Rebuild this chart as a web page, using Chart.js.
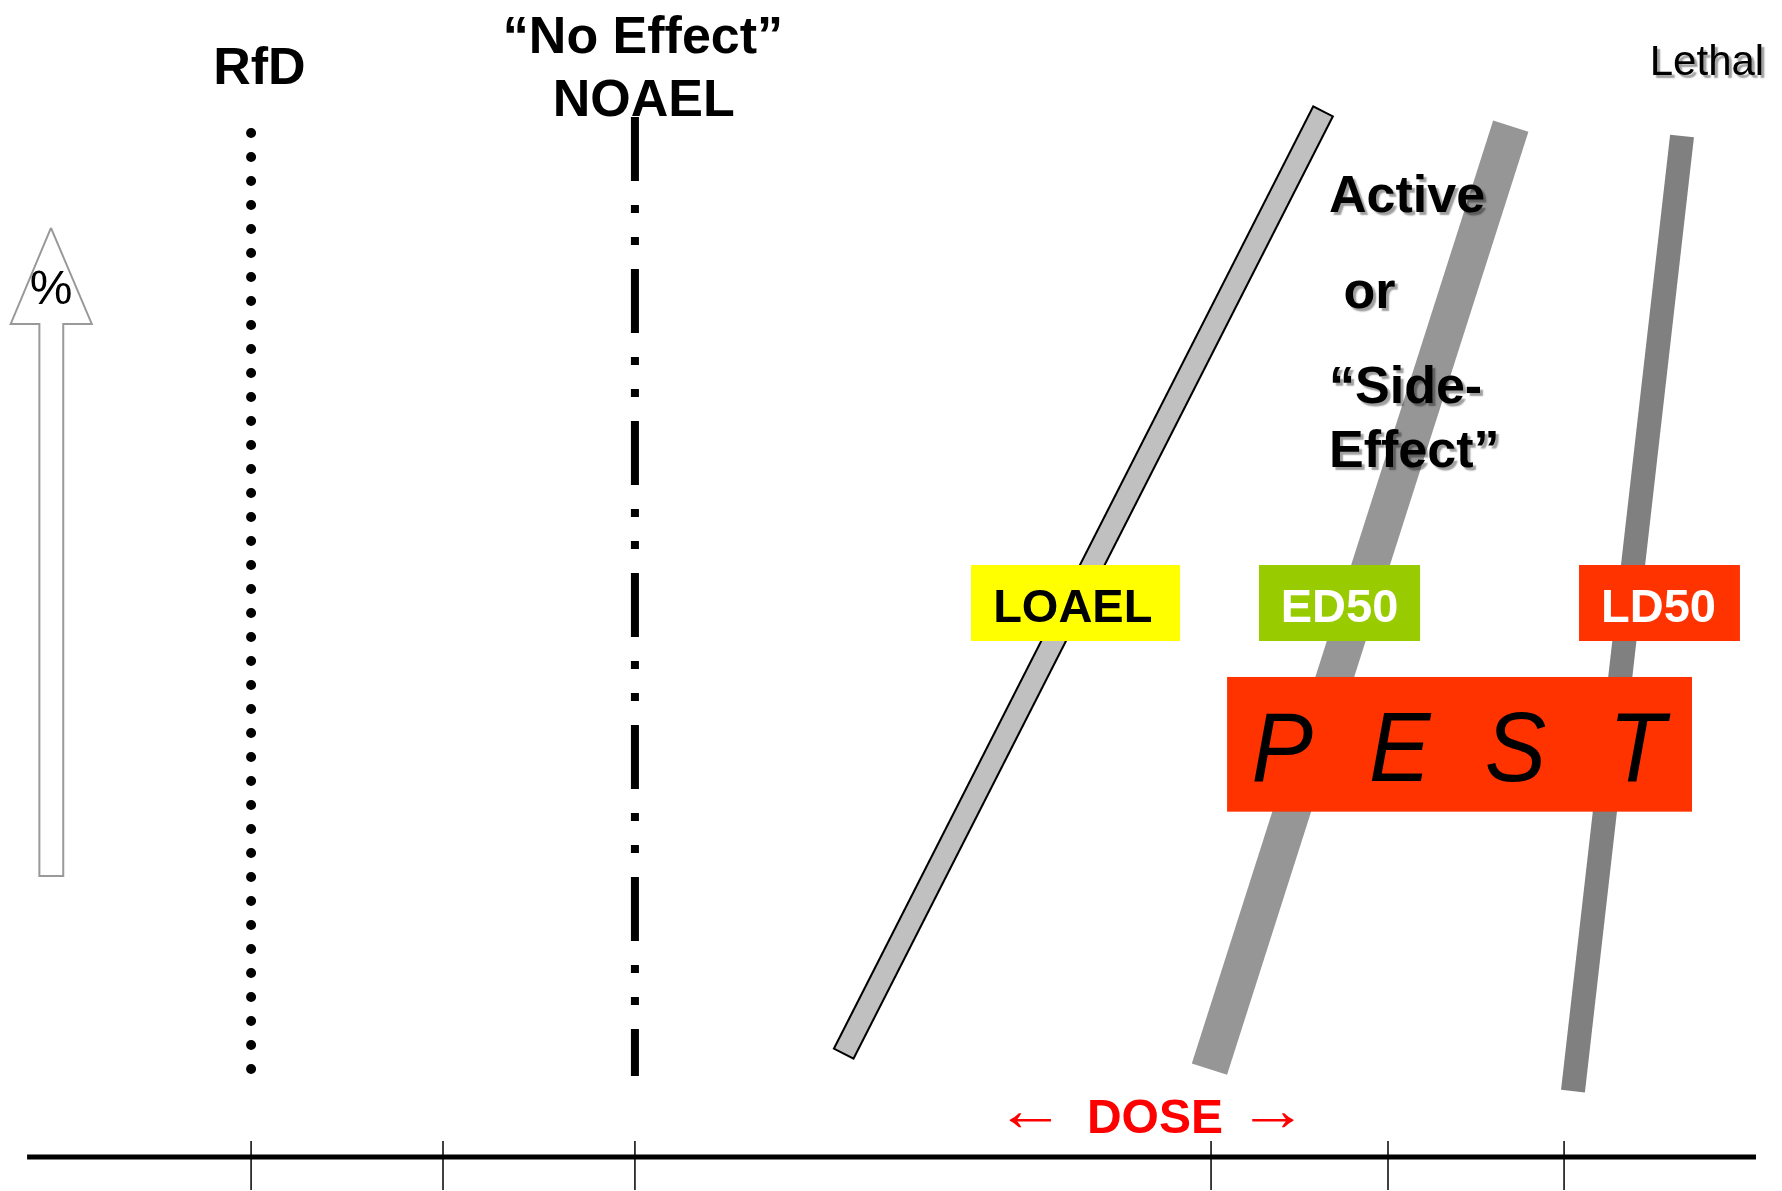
<!DOCTYPE html>
<html><head><meta charset="utf-8">
<script src="https://cdn.jsdelivr.net/npm/chart.js@4/dist/chart.umd.min.js"></script>
<style>html,body{margin:0;padding:0;background:#fff;overflow:hidden}#wrap{width:1782px;height:1191px;position:relative}</style>
</head><body><div id="wrap"><canvas id="c"></canvas></div>
<script>
// ---- Data (dose axis 0..100, response % axis) ----
const doseAxisRange = [1.52, 98.54];
const doseTicks = [14.09, 24.86, 35.63, 67.96, 77.89, 87.77];
const tickCenterY = -0.71;
const rfdDose = 14.09, rfdRange = [85.98, 7.39];
const noaelDose = 35.63, noaelRange = [87.32, 6.80];
// dose-response bars: top point and bottom point
const curveNames = ['LOAEL', 'Active', 'Lethal'];
const curveTopDose = [74.27, 84.78, 94.39];
const curveTopResp = [87.87, 86.57, 85.73];
const curveBottomDose = [47.32, 67.87, 88.27];
const curveBottomResp = [8.61, 7.39, 5.54];
// response (%) arrow outline
const arrowDose = [2.86, 5.15, 3.55, 3.55, 2.21, 2.21, 0.60, 2.86];
const arrowResp = [78.01, 69.95, 69.95, 23.60, 23.60, 69.95, 69.95, 78.01];

// ---- Annotation labels ----
const boxLabels = ['LOAEL', 'ED50', 'LD50'];
const boxLeft = [54.49, 70.65, 88.61];
const boxRight = [66.22, 79.69, 97.64];
const boxTextX = [60.20, 75.17, 93.07];
const pestLetters = ['P', 'E', 'S', 'T'];
const pestX = [71.95, 78.55, 85.05, 91.85];

const XMIN = 0, XMAX = 100, YMIN = -2.85, YMAX = 97.15;
const W = 1782, H = 1191;
const kx = W / (XMAX - XMIN), ky = H / (YMAX - YMIN);

function pt(x, y) { return {x: x, y: y}; }
function shrink(p0, p1, px) {
  const dx = (p1.x - p0.x) * kx, dy = -(p1.y - p0.y) * ky;
  const L = Math.hypot(dx, dy), ux = dx / L, uy = dy / L;
  return [pt(p0.x + ux * px / kx, p0.y - uy * px / ky), pt(p1.x - ux * px / kx, p1.y + uy * px / ky)];
}

const bars = curveNames.map((n, i) => [pt(curveTopDose[i], curveTopResp[i]), pt(curveBottomDose[i], curveBottomResp[i])]);

const base = {showLine: true, pointRadius: 0, pointHoverRadius: 0, fill: false, tension: 0, clip: false};
const datasets = [
  Object.assign({}, base, {label: 'LOAEL fill', data: shrink(bars[0][0], bars[0][1], 2), borderColor: '#C0C0C0', borderWidth: 20, borderCapStyle: 'butt', order: 1}),
  Object.assign({}, base, {label: 'LOAEL edge', data: bars[0], borderColor: '#000', borderWidth: 24, borderCapStyle: 'butt', order: 2}),
  Object.assign({}, base, {label: 'Active', data: bars[1], borderColor: '#969696', borderWidth: 37, borderCapStyle: 'butt', order: 3}),
  Object.assign({}, base, {label: 'Lethal', data: bars[2], borderColor: '#808080', borderWidth: 24, borderCapStyle: 'butt', order: 4}),
  Object.assign({}, base, {label: 'RfD', data: [pt(rfdDose, rfdRange[0]), pt(rfdDose, rfdRange[1])], borderColor: '#000', borderWidth: 10, borderCapStyle: 'round', borderDash: [0, 24], order: 5}),
  Object.assign({}, base, {label: 'NOAEL', data: [pt(noaelDose, noaelRange[0]), pt(noaelDose, noaelRange[1])], borderColor: '#000', borderWidth: 8, borderCapStyle: 'butt', borderDash: [64, 24, 8, 24, 8, 24], order: 6}),
  Object.assign({}, base, {label: 'Dose axis', data: [pt(doseAxisRange[0], 0), pt(doseAxisRange[1], 0)], borderColor: '#000', borderWidth: 5, borderCapStyle: 'butt', order: 7}),
  {label: 'ticks', data: doseTicks.map(d => pt(d, tickCenterY)), showLine: false, clip: false, pointStyle: 'line', rotation: 90, pointRadius: 24.5, pointHoverRadius: 24.5, pointBorderColor: '#000', pointBorderWidth: 1.5, borderColor: '#000', order: 8},
  Object.assign({}, base, {label: '% arrow', data: arrowDose.map((d, i) => pt(d, arrowResp[i])), borderColor: '#999', borderWidth: 2, borderJoinStyle: 'miter', order: 9})
];

const labelsPlugin = {
  id: 'labels',
  afterDatasetsDraw(chart) {
    const ctx = chart.ctx, xs = chart.scales.x, ys = chart.scales.y;
    const X = v => xs.getPixelForValue(v), Y = v => ys.getPixelForValue(v);
    const F = 'Liberation Sans, Arial, Helvetica, sans-serif';
    ctx.save();
    function text(s, x, y, font, color, align, shadow, baseline, sx) {
      ctx.save();
      ctx.font = font; ctx.fillStyle = color; ctx.textAlign = align || 'center';
      ctx.textBaseline = baseline || 'alphabetic';
      if (shadow) { ctx.shadowColor = 'rgba(0,0,0,0.38)'; ctx.shadowOffsetX = 3; ctx.shadowOffsetY = 3; ctx.shadowBlur = 1.5; }
      ctx.translate(X(x), Y(y));
      if (sx) ctx.scale(sx, 1);
      ctx.fillText(s, 0, 0);
      ctx.restore();
    }
    // top labels
    text('RfD', 14.56, 90.10, 'bold 52px ' + F, '#000');
    text('\u201CNo Effect\u201D', 36.08, 92.67, 'bold 52px ' + F, '#000');
    text('NOAEL', 36.12, 87.41, 'bold 52px ' + F, '#000');
    text('Lethal', 95.79, 90.85, '42px ' + F, '#000', 'center', true);
    text('Active', 74.58, 79.35, 'bold 52px ' + F, '#000', 'left', true);
    text('or', 75.39, 71.29, 'bold 52px ' + F, '#000', 'left', true);
    text('\u201CSide-', 74.58, 63.31, 'bold 52px ' + F, '#000', 'left', true);
    text('Effect\u201D', 74.58, 57.94, 'bold 52px ' + F, '#000', 'left', true);
    // boxes
    const boxFill = ['#FFFF00', '#99CC00', '#FF3300'];
    const boxText = ['#000', '#fff', '#fff'];
    boxLabels.forEach((l, i) => {
      ctx.fillStyle = boxFill[i];
      ctx.fillRect(X(boxLeft[i]), Y(49.71), X(boxRight[i]) - X(boxLeft[i]), Y(43.33) - Y(49.71));
      text(l, boxTextX[i], 44.95, 'bold 47px ' + F, boxText[i]);
    });
    ctx.fillStyle = '#FF3300';
    ctx.fillRect(X(68.86), Y(40.31), X(94.95) - X(68.86), Y(29.0) - Y(40.31));
    pestLetters.forEach((l, i) => text(l, pestX[i], 31.57, 'italic 98px ' + F, '#000', 'center', false, 'alphabetic', 0.94));
    // dose label
    text('DOSE', 64.81, 2.04, 'bold 48px ' + F, '#FF0000');
    text('\u2190', 57.83, 2.3, '60px ' + F, '#FF0000', 'center', false, 'alphabetic', 1.16);
    text('\u2192', 71.44, 2.3, '60px ' + F, '#FF0000', 'center', false, 'alphabetic', 1.16);
    // percent
    text('%', 2.86, 72.75, '48px ' + F, '#000', 'center', false, 'middle');
    ctx.restore();
  }
};

new Chart(document.getElementById('c'), {
  type: 'scatter',
  data: {datasets: datasets},
  options: {
    responsive: true, maintainAspectRatio: false, animation: false, events: [],
    layout: {padding: 0, autoPadding: false},
    plugins: {legend: {display: false}, tooltip: {enabled: false}},
    scales: {
      x: {type: 'linear', min: XMIN, max: XMAX, display: false},
      y: {type: 'linear', min: YMIN, max: YMAX, display: false}
    }
  },
  plugins: [labelsPlugin]
});
</script>
</body></html>
